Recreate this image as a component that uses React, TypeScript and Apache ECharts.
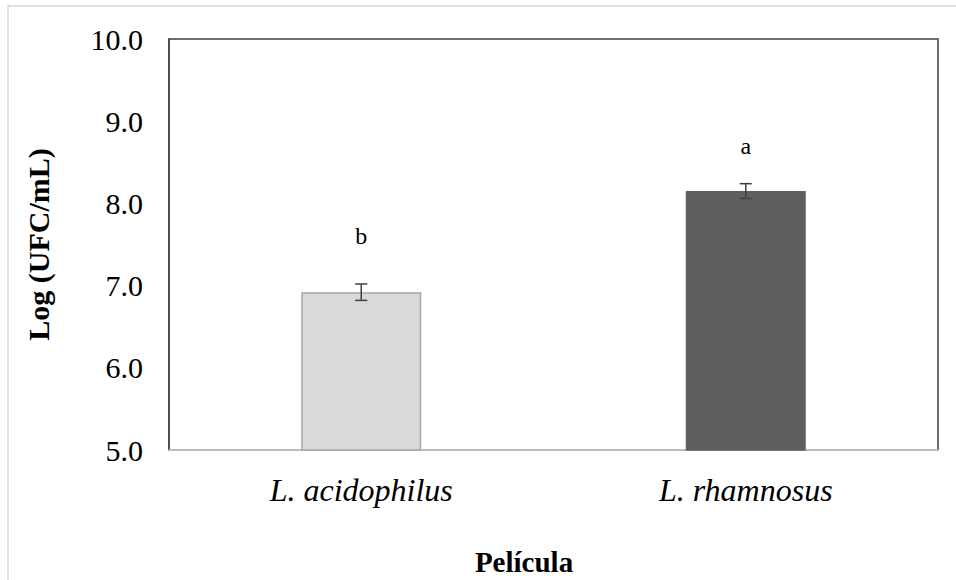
import React, { useEffect, useRef } from "react";
import * as echarts from "echarts";

const categories = ["L. acidophilus", "L. rhamnosus"];
const means = [6.92, 8.15];
const errors = [0.1, 0.09];
const letters = ["b", "a"];
const yTicks = { min: 5, max: 10, interval: 1 };
const xTitle = "Película";
const yTitle = "Log (UFC/mL)";

const barColors = ["#d9d9d9", "#5f5f5f"];
const letterDistances = [44, 33];
const FONT = "'Liberation Serif', 'Times New Roman', serif";

export default function App() {
  const ref = useRef<HTMLDivElement>(null);
  useEffect(() => {
    if (!ref.current) return;
    const chart = echarts.init(ref.current, null, { renderer: "svg" });
    chart.setOption({
      animation: false,
      backgroundColor: "#ffffff",
      graphic: [
        {
          type: "rect",
          shape: { x: 8, y: 6, width: 1000, height: 700 },
          style: { fill: "none", stroke: "#d9d9d9", lineWidth: 1.5 },
          silent: true,
        },
        {
          type: "text",
          x: 524,
          y: 562,
          style: {
            text: xTitle,
            fontFamily: FONT,
            fontWeight: "bold",
            fontSize: 29,
            fill: "#000",
            align: "center",
            verticalAlign: "middle",
          },
        },
      ],
      grid: {
        left: 169,
        right: 18,
        top: 39,
        bottom: 130,
        show: true,
        borderColor: "#404040",
        borderWidth: 1.5,
        backgroundColor: "transparent",
      },
      xAxis: {
        type: "category",
        data: categories,
        axisLine: { show: true, lineStyle: { color: "#d9d9d9", width: 1.5 } },
        axisTick: { show: false },
        axisLabel: {
          fontFamily: FONT,
          fontStyle: "italic",
          fontSize: 32,
          color: "#000",
          margin: 24,
        },
      },
      yAxis: {
        type: "value",
        min: yTicks.min,
        max: yTicks.max,
        interval: yTicks.interval,
        name: yTitle,
        nameLocation: "middle",
        nameGap: 116,
        nameRotate: 90,
        nameTextStyle: { fontFamily: FONT, fontWeight: "bold", fontSize: 30, color: "#000" },
        axisLine: { show: true, lineStyle: { color: "#404040", width: 1.5 } },
        axisTick: { show: false },
        splitLine: { show: false },
        axisLabel: {
          fontFamily: FONT,
          fontSize: 30,
          color: "#000",
          margin: 26,
          formatter: (v: number) => v.toFixed(1),
        },
      },
      series: [
        {
          type: "bar",
          barWidth: 120,
          data: means.map((v, i) => ({
            value: v,
            itemStyle: {
              color: barColors[i],
              borderColor: i === 0 ? "#a6a6a6" : "#5f5f5f",
              borderWidth: 1.5,
            },
            label: {
              show: true,
              position: "top",
              distance: letterDistances[i],
              formatter: letters[i],
              fontFamily: FONT,
              fontSize: 24,
              color: "#000",
            },
          })),
        },
        {
          type: "custom",
          z: 10,
          data: means.map((m, i) => [i, m - errors[i], m + errors[i]]),
          renderItem: (params: any, api: any) => {
            const x = api.value(0);
            const lo = api.coord([x, api.value(1)]);
            const hi = api.coord([x, api.value(2)]);
            const hw = 6;
            const style = { stroke: "#404040", lineWidth: 1.5 };
            return {
              type: "group",
              children: [
                { type: "line", shape: { x1: hi[0], y1: hi[1], x2: lo[0], y2: lo[1] }, style },
                { type: "line", shape: { x1: hi[0] - hw, y1: hi[1], x2: hi[0] + hw, y2: hi[1] }, style },
                { type: "line", shape: { x1: lo[0] - hw, y1: lo[1], x2: lo[0] + hw, y2: lo[1] }, style },
              ],
            };
          },
        },
      ],
    });
    return () => chart.dispose();
  }, []);
  return (
    <div
      ref={ref}
      style={{ position: "fixed", left: 0, top: 0, width: 956, height: 580 }}
    />
  );
}
